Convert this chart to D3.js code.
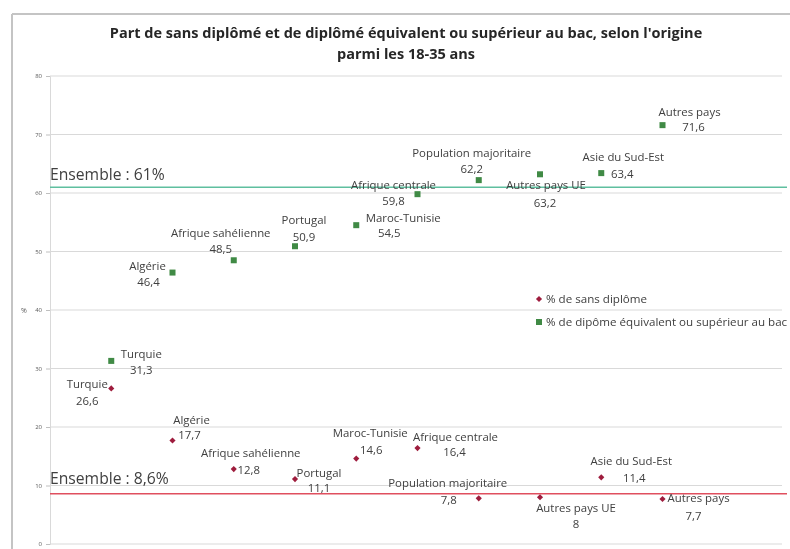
<!DOCTYPE html>
<html>
<head>
<meta charset="utf-8">
<script src="https://cdn.jsdelivr.net/npm/d3@7"></script>
<style>
  html, body { margin: 0; padding: 0; background: #fff; }
  svg { display: block; }
  text { font-family: "Open Sans", "DejaVu Sans", sans-serif; }
</style>
</head>
<body>
<svg id="chart" width="790" height="549"></svg>
<script>
// Origins (x positions 1..10 on a 0..12 axis)
const origins = ["Turquie", "Algérie", "Afrique sahélienne", "Portugal", "Maroc-Tunisie",
                 "Afrique centrale", "Population majoritaire", "Autres pays UE",
                 "Asie du Sud-Est", "Autres pays"];
// % sans diplôme
const sansDiplome = [26.6, 17.7, 12.8, 11.1, 14.6, 16.4, 7.8, 8, 11.4, 7.7];
// % diplôme équivalent ou supérieur au bac
const bacOuPlus = [31.3, 46.4, 48.5, 50.9, 54.5, 59.8, 62.2, 63.2, 63.4, 71.6];
// Overall averages
const ensembleBac = 61;
const ensembleSans = 8.6;
const yTicks = [0, 10, 20, 30, 40, 50, 60, 70, 80];

// Label placement (offsets of name / value centres from each marker)
const bacLabelPos = [
  [30, -7, 30, 9], [-25, -6.5, -24, 9], [-13, -27, -13, -11], [9, -26, 9, -9],
  [47, -7, 33, 8], [-24, -9, -24, 7], [-7, -27, -7, -11], [6, 11, 5, 29],
  [22, -16, 21, 1], [27, -13, 31, 2]
];
const sansLabelPos = [
  [-24, -4, -24, 13], [19, -20, 17, -5], [17, -16, 15, 1], [24, -6, 24, 9],
  [14, -26, 15, -9], [38, -11, 37, 4], [-31, -15, -30, 1.5], [36, 11, 36, 27],
  [30, -16, 33, 1], [36, -1, 31, 17]
];

const fmt = v => String(v).replace(".", ",");

const svg = d3.select("#chart");
const defs = svg.append("defs");
defs.append("filter").attr("id", "soft")
  .append("feGaussianBlur").attr("stdDeviation", 0.35);

const root = svg.append("g").attr("filter", "url(#soft)");

const x = d3.scaleLinear().domain([0, 12]).range([50, 785]);
const y = d3.scaleLinear().domain([0, 80]).range([544, 76]);

// Chart frame
root.append("line").attr("x1", 12).attr("x2", 12).attr("y1", 14).attr("y2", 549)
  .attr("stroke", "#c4c4c4").attr("stroke-width", 2);
root.append("line").attr("x1", 12).attr("x2", 790).attr("y1", 14).attr("y2", 14)
  .attr("stroke", "#c4c4c4").attr("stroke-width", 2);

// Title
const title = root.append("text").attr("x", 406).attr("text-anchor", "middle")
  .attr("font-size", 14.5).attr("font-weight", "bold").attr("fill", "#262626");
title.append("tspan").attr("x", 406).attr("y", 38)
  .text("Part de sans diplômé et de diplômé équivalent ou supérieur au bac, selon l'origine");
title.append("tspan").attr("x", 406).attr("y", 59).text("parmi les 18-35 ans");

// Gridlines
root.append("g").selectAll("line").data(yTicks).join("line")
  .attr("x1", x(0)).attr("x2", 782)
  .attr("y1", d => y(d)).attr("y2", d => y(d))
  .attr("stroke", "#d9d9d9").attr("stroke-width", 1);

// Y axis
const yAxis = root.append("g").attr("transform", `translate(${x(0)},0)`)
  .call(d3.axisLeft(y).tickValues(yTicks).tickSize(4).tickPadding(4));
yAxis.select(".domain").attr("stroke", "#d9d9d9");
yAxis.selectAll(".tick line").attr("stroke", "#bfbfbf");
yAxis.selectAll(".tick text").attr("font-size", 6).attr("fill", "#595959")
  .attr("font-family", "'Open Sans', sans-serif");
root.append("text").attr("x", 24).attr("y", y(40) + 2.5).attr("text-anchor", "middle")
  .attr("font-size", 7).attr("fill", "#595959").text("%");

// Average lines
root.append("line").attr("x1", x(0)).attr("x2", 787)
  .attr("y1", y(ensembleBac)).attr("y2", y(ensembleBac))
  .attr("stroke", "#5fbf9f").attr("stroke-width", 1.5);
root.append("line").attr("x1", x(0)).attr("x2", 787)
  .attr("y1", y(ensembleSans)).attr("y2", y(ensembleSans))
  .attr("stroke", "#e0505f").attr("stroke-width", 1.5);
root.append("text").attr("x", 50).attr("y", y(ensembleBac) - 7)
  .attr("font-size", 15.7).attr("fill", "#404040").text(`Ensemble : ${fmt(ensembleBac)}%`);
root.append("text").attr("x", 50).attr("y", y(ensembleSans) - 10)
  .attr("font-size", 15.7).attr("fill", "#404040").text(`Ensemble : ${fmt(ensembleSans)}%`);

// Points
const green = "#3f8a45";
const red = "#9e1c3c";
const bacData = origins.map((o, i) => ({ o, v: bacOuPlus[i], i }));
const sansData = origins.map((o, i) => ({ o, v: sansDiplome[i], i }));

root.append("g").selectAll("rect").data(bacData).join("rect")
  .attr("x", d => x(d.i + 1) - 3).attr("y", d => y(d.v) - 3)
  .attr("width", 6).attr("height", 6).attr("fill", green);

const diamond = d3.symbol().type(d3.symbolDiamond2).size(24);
root.append("g").selectAll("path").data(sansData).join("path")
  .attr("d", diamond)
  .attr("transform", d => `translate(${x(d.i + 1)},${y(d.v)})`)
  .attr("fill", red);

// Data labels
const labelSize = 11.4;
function drawLabels(data, pos) {
  const g = root.append("g").attr("font-size", labelSize).attr("fill", "#404040")
    .attr("text-anchor", "middle");
  g.selectAll("text.name").data(data).join("text").attr("class", "name")
    .attr("x", d => x(d.i + 1) + pos[d.i][0])
    .attr("y", d => y(d.v) + pos[d.i][1] + 4)
    .text(d => d.o);
  g.selectAll("text.val").data(data).join("text").attr("class", "val")
    .attr("x", d => x(d.i + 1) + pos[d.i][2])
    .attr("y", d => y(d.v) + pos[d.i][3] + 4)
    .text(d => fmt(d.v));
}
drawLabels(bacData, bacLabelPos);
drawLabels(sansData, sansLabelPos);

// Legend
const legend = root.append("g");
legend.append("path").attr("d", diamond).attr("transform", "translate(539,299)").attr("fill", red);
legend.append("text").attr("x", 546).attr("y", 303).attr("font-size", 11.6)
  .attr("fill", "#404040").text("% de sans diplôme");
legend.append("rect").attr("x", 536).attr("y", 319).attr("width", 6).attr("height", 6).attr("fill", green);
legend.append("text").attr("x", 546).attr("y", 326).attr("font-size", 11.6)
  .attr("fill", "#404040").text("% de dipôme équivalent ou supérieur au bac");
</script>
</body>
</html>
